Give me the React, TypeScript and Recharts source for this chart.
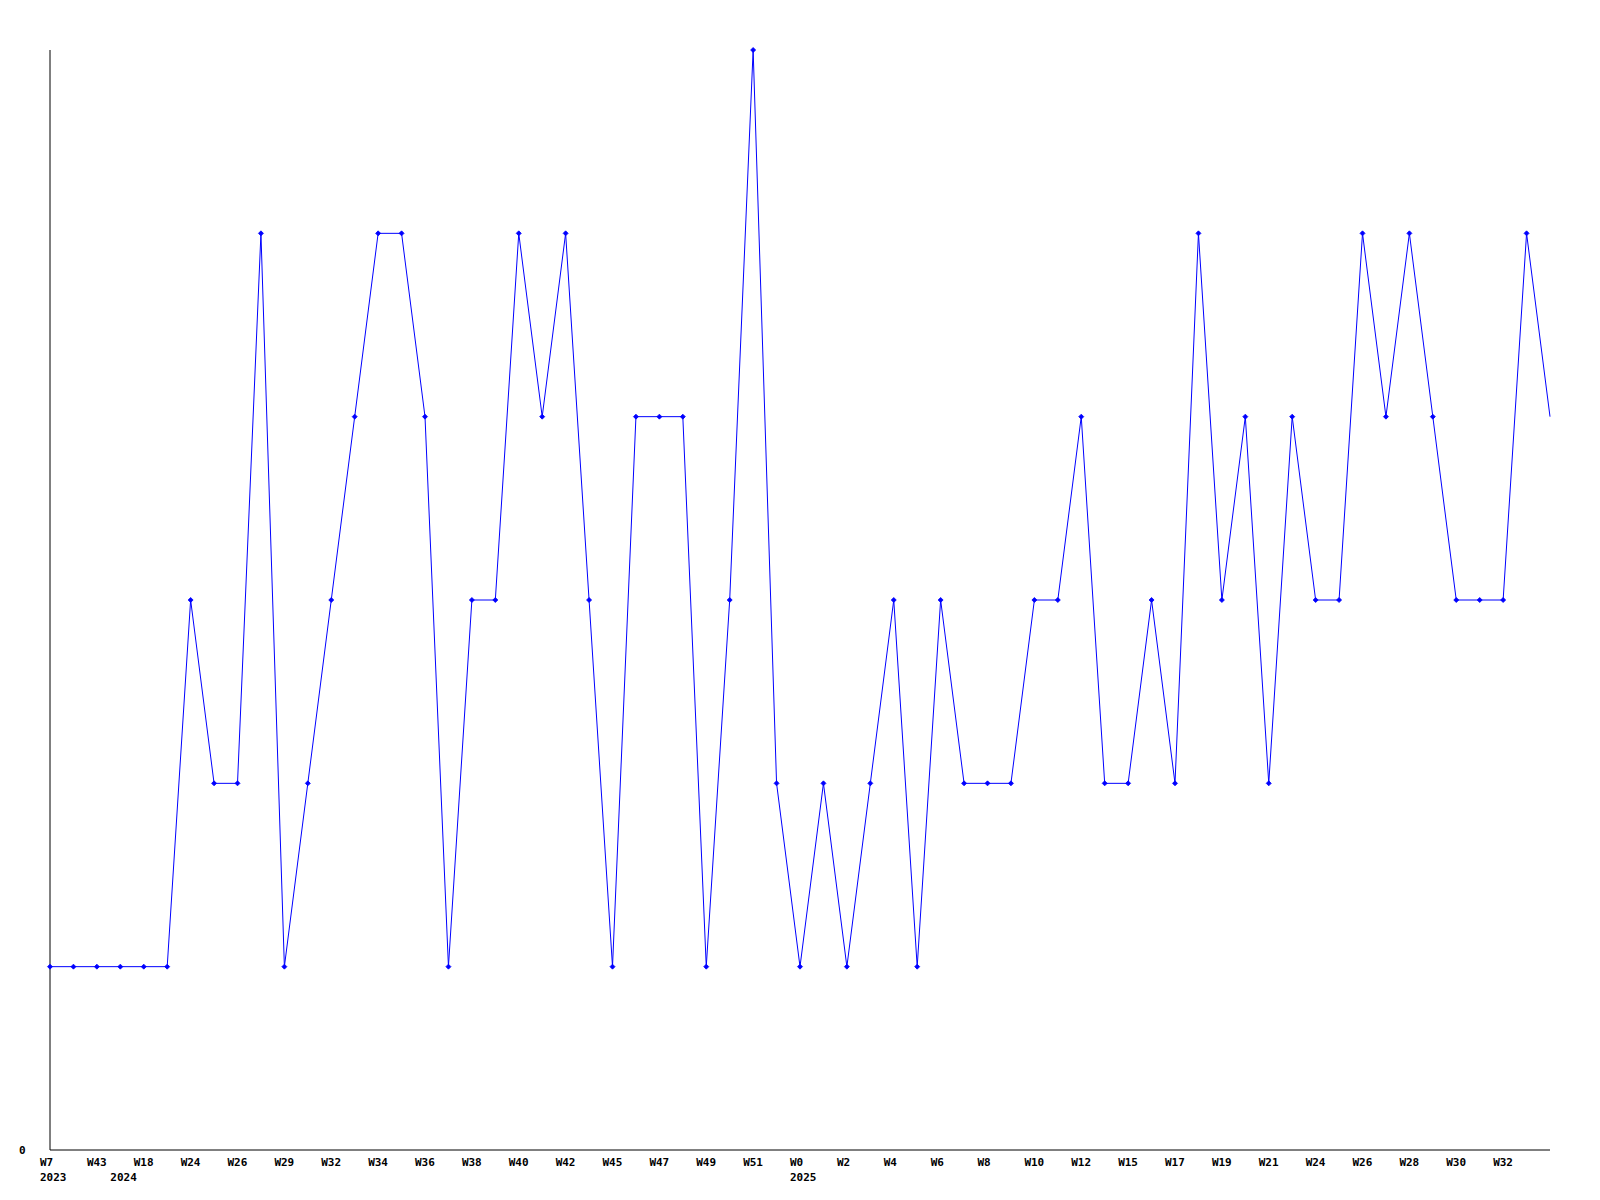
import { LineChart, Line, XAxis, YAxis } from "recharts";

// weekly values, oldest first
const weeks = [
  "W7", "W25", "W43", "W12", "W18", "W22", "W24", "W25", "W26", "W28",
  "W29", "W31", "W32", "W33", "W34", "W35", "W36", "W37", "W38", "W39",
  "W40", "W41", "W42", "W44", "W45", "W46", "W47", "W48", "W49", "W50",
  "W51", "W52", "W0", "W1", "W2", "W3", "W4", "W5", "W6", "W7",
  "W8", "W9", "W10", "W11", "W12", "W14", "W15", "W16", "W17", "W18",
  "W19", "W20", "W21", "W23", "W24", "W25", "W26", "W27", "W28", "W29",
  "W30", "W31", "W32", "W33", "W34",
];
const years = [
  2023, 2023, 2023, 2024, 2024, 2024, 2024, 2024, 2024, 2024,
  2024, 2024, 2024, 2024, 2024, 2024, 2024, 2024, 2024, 2024,
  2024, 2024, 2024, 2024, 2024, 2024, 2024, 2024, 2024, 2024,
  2024, 2024, 2025, 2025, 2025, 2025, 2025, 2025, 2025, 2025,
  2025, 2025, 2025, 2025, 2025, 2025, 2025, 2025, 2025, 2025,
  2025, 2025, 2025, 2025, 2025, 2025, 2025, 2025, 2025, 2025,
  2025, 2025, 2025, 2025, 2025,
];
const counts = [
  1, 1, 1, 1, 1, 1, 3, 2, 2, 5,
  1, 2, 3, 4, 5, 5, 4, 1, 3, 3,
  5, 4, 5, 3, 1, 4, 4, 4, 1, 3,
  6, 2, 1, 2, 1, 2, 3, 1, 3, 2,
  2, 2, 3, 3, 4, 2, 2, 3, 2, 5,
  3, 4, 2, 4, 3, 3, 5, 4, 5, 4,
  3, 3, 3, 5, 4,
];

const data = counts.map((v, i) => ({ idx: i, value: v }));
const allTicks = counts.map((_, i) => i);
const last = counts.length - 1;

const FONT = "'DejaVu Sans Mono', monospace";

function WeekTick(props: any) {
  const { x, y, payload } = props;
  const i = payload.value as number;
  // the newest week is drawn but not labelled
  const showWeek = i % 2 === 0 && i !== last;
  const showYear = i === 0 || years[i] !== years[i - 1];
  return (
    <g>
      {showWeek && (
        <text x={x - 10} y={y + 8} textAnchor="start" fontFamily={FONT} fontSize={11} fontWeight="bold" fill="#000">
          {weeks[i]}
        </text>
      )}
      {showYear && (
        <text x={x - 10} y={y + 23} textAnchor="start" fontFamily={FONT} fontSize={11} fontWeight="bold" fill="#000">
          {years[i]}
        </text>
      )}
    </g>
  );
}

function ZeroTick(props: any) {
  const { y, payload } = props;
  return (
    <text x={11} y={y + 4} textAnchor="start" fontFamily={FONT} fontSize={11} fontWeight="bold" fill="#000">
      {payload.value}
    </text>
  );
}

function Marker(props: any) {
  const { cx, cy, index } = props;
  if (index === last) return <g key={index} />;
  return (
    <path
      key={index}
      d={`M${cx - 2.5},${cy} L${cx},${cy - 2.5} L${cx + 2.5},${cy} L${cx},${cy + 2.5} Z`}
      fill="#0000ff"
      stroke="#0000ff"
      strokeWidth={0.8}
    />
  );
}

export default function App() {
  return (
    <div style={{ width: 1560, height: 1190, background: "#fff" }}>
      <LineChart width={1560} height={1190} data={data} margin={{ top: 42, right: 18, bottom: 12, left: 0 }}>
        <XAxis
          dataKey="idx"
          type="number"
          domain={[0, last]}
          ticks={allTicks}
          interval={0}
          tick={<WeekTick />}
          tickLine={false}
          axisLine={{ stroke: "#000", strokeWidth: 1 }}
          height={36}
        />
        <YAxis
          type="number"
          domain={[0, 6]}
          ticks={[0]}
          tick={<ZeroTick />}
          tickLine={false}
          axisLine={{ stroke: "#000", strokeWidth: 1 }}
          width={42}
        />
        <Line
          type="linear"
          dataKey="value"
          stroke="#0000ff"
          strokeWidth={1}
          dot={<Marker />}
          activeDot={false}
          isAnimationActive={false}
        />
      </LineChart>
    </div>
  );
}
